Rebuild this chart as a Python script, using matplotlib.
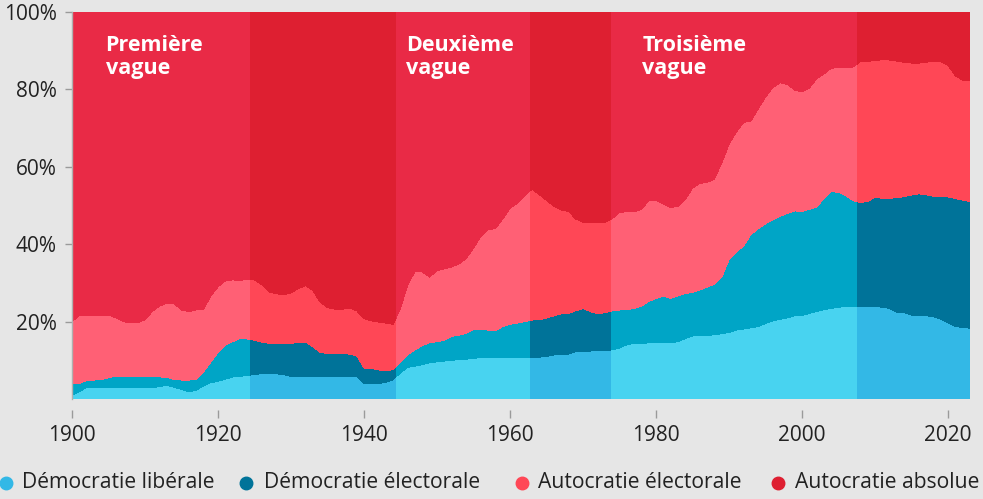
import matplotlib
matplotlib.use("Agg")
import matplotlib.pyplot as plt
from matplotlib.patches import Rectangle
from matplotlib.lines import Line2D

plt.rcParams['font.family'] = ['Open Sans', 'DejaVu Sans']

years = list(range(1900, 2024))

liberale = [1.0, 1.9, 3.0, 2.9, 2.9, 2.9, 2.9, 2.9, 2.9, 2.9,
            2.9, 2.9, 3.2, 3.6, 3.0, 2.5, 1.9, 2.2, 3.4, 4.2,
            4.6, 5.1, 5.7, 5.9, 6.0, 6.4, 6.5, 6.5, 6.5, 6.3,
            5.8, 5.8, 5.8, 5.8, 5.8, 5.8, 5.8, 5.8, 5.8, 5.8,
            4.0, 4.0, 4.0, 4.3, 5.0, 6.8, 8.2, 8.5, 8.9, 9.4,
            9.6, 9.8, 10.0, 10.2, 10.3, 10.5, 10.7, 10.8, 10.8, 10.8,
            10.8, 10.8, 10.8, 10.8, 10.8, 11.0, 11.4, 11.4, 11.6, 12.2,
            12.3, 12.4, 12.5, 12.5, 12.7, 13.2, 14.0, 14.4, 14.4, 14.5,
            14.6, 14.6, 14.6, 14.8, 15.6, 16.3, 16.3, 16.4, 16.6, 16.9,
            17.2, 17.8, 18.1, 18.4, 18.7, 19.5, 20.2, 20.6, 21.0, 21.5,
            21.6, 22.1, 22.6, 23.1, 23.4, 23.7, 23.9, 24.0, 24.0, 24.0,
            23.9, 23.7, 23.4, 22.4, 22.3, 21.7, 21.5, 21.5, 21.3, 20.6,
            19.7, 18.7, 18.5, 18.3]

electorale = [3.0, 2.1, 1.8, 2.0, 2.1, 2.6, 3.0, 3.0, 3.0, 3.0,
              2.9, 2.9, 2.5, 2.0, 2.0, 2.4, 3.0, 2.8, 3.6, 5.3,
              7.4, 8.9, 9.1, 9.7, 9.5, 8.8, 8.2, 7.9, 7.9, 8.1,
              8.6, 8.8, 8.9, 7.7, 6.2, 6.0, 6.0, 6.0, 5.8, 5.4,
              4.0, 3.9, 3.5, 3.0, 2.6, 2.7, 3.3, 4.2, 4.9, 5.2,
              5.2, 5.4, 6.2, 6.3, 6.7, 7.4, 7.3, 7.0, 6.9, 7.9,
              8.5, 8.8, 9.2, 9.6, 9.7, 9.9, 10.1, 10.6, 10.5, 10.6,
              11.1, 10.2, 9.5, 9.8, 10.1, 9.8, 9.1, 9.0, 9.6, 10.7,
              11.4, 12.0, 11.4, 11.8, 11.7, 11.2, 11.9, 12.5, 13.1, 14.6,
              18.8, 20.2, 21.4, 24.1, 25.3, 25.8, 26.1, 26.6, 27.0, 27.1,
              26.9, 26.9, 27.0, 28.7, 30.2, 29.7, 28.6, 27.2, 26.8, 27.0,
              28.3, 28.1, 28.5, 29.6, 30.0, 31.0, 31.5, 31.3, 31.1, 31.7,
              32.5, 33.1, 32.9, 32.7]

auto_electorale = [16.0, 17.5, 16.9, 16.6, 16.6, 16.2, 15.1, 14.1, 13.8, 13.8,
                   14.7, 16.8, 18.3, 19.2, 19.6, 18.1, 17.7, 18.0, 16.2, 17.0,
                   17.0, 16.5, 16.0, 15.0, 15.5, 15.6, 14.8, 13.2, 12.8, 12.5,
                   13.0, 13.9, 14.6, 14.5, 13.0, 11.8, 11.4, 11.4, 11.9, 11.6,
                   12.8, 12.3, 12.4, 12.3, 11.7, 14.0, 18.0, 20.3, 19.0, 16.9,
                   18.4, 18.4, 17.9, 18.4, 19.3, 21.1, 24.0, 26.0, 26.3, 27.8,
                   30.0, 31.0, 32.5, 33.8, 32.3, 30.4, 28.3, 26.8, 26.4, 23.7,
                   22.3, 23.0, 23.6, 23.3, 23.8, 25.2, 25.3, 25.0, 25.0, 26.0,
                   25.4, 23.8, 23.5, 23.2, 24.2, 27.0, 27.5, 27.1, 27.1, 29.5,
                   29.8, 31.0, 32.0, 29.3, 31.0, 32.7, 34.2, 34.5, 33.3, 31.2,
                   30.9, 31.3, 33.2, 32.2, 31.9, 32.2, 33.1, 34.6, 36.4, 36.3,
                   35.2, 35.9, 35.7, 35.3, 34.7, 34.1, 33.8, 34.2, 34.9, 34.9,
                   34.0, 31.7, 31.0, 31.3]

auto_absolue = [80.0, 78.5, 78.3, 78.5, 78.4, 78.3, 79.0, 80.0, 80.3, 80.3,
                79.5, 77.4, 76.0, 75.2, 75.4, 77.0, 77.4, 77.0, 76.8, 73.5,
                71.0, 69.5, 69.2, 69.4, 69.0, 69.2, 70.5, 72.4, 72.8, 73.1,
                72.6, 71.5, 70.7, 72.0, 75.0, 76.4, 76.8, 76.8, 76.5, 77.2,
                79.2, 79.8, 80.1, 80.4, 80.7, 76.5, 70.5, 67.0, 67.2, 68.5,
                66.8, 66.4, 65.9, 65.1, 63.7, 61.0, 58.0, 56.2, 56.0, 53.5,
                50.7, 49.4, 47.5, 45.8, 47.2, 48.7, 50.2, 51.2, 51.5, 53.5,
                54.3, 54.4, 54.4, 54.4, 53.4, 51.8, 51.6, 51.6, 51.0, 48.8,
                48.6, 49.6, 50.5, 50.2, 48.5, 45.5, 44.3, 44.0, 43.2, 39.0,
                34.2, 31.0, 28.5, 28.2, 25.0, 22.0, 19.5, 18.3, 18.7, 20.2,
                20.6, 19.7, 17.2, 16.0, 14.5, 14.4, 14.4, 14.2, 12.8, 12.7,
                12.6, 12.3, 12.4, 12.7, 13.0, 13.2, 13.2, 13.0, 12.7, 12.8,
                13.8, 16.5, 17.6, 17.7]

series_labels = ["Démocratie libérale", "Démocratie électorale",
                 "Autocratie électorale", "Autocratie absolue"]

# reflux periods (darker shading)
reflux_periods = [(1924.4, 1944.4), (1962.7, 1973.8), (2007.5, 2023.0)]
wave_labels = ["Première\nvague", "Deuxième\nvague", "Troisième\nvague"]
wave_label_x = [1904.6, 1945.8, 1978.1]

wave_colors = ["#48d3f0", "#00a5c6", "#ff6075", "#e92a46"]
reflux_colors = ["#33b8e6", "#007399", "#ff4756", "#de1f31"]
legend_colors = ["#33b8e6", "#007399", "#ff4756", "#de1f31"]

bg = "#e6e6e6"
fig = plt.figure(figsize=(9.83, 4.99), dpi=100, facecolor=bg)
ax = fig.add_axes([72 / 983, 100 / 499, (970 - 72) / 983, (399 - 12) / 499])
ax.set_facecolor(bg)

ax.stackplot(years, liberale, electorale, auto_electorale, auto_absolue,
             colors=wave_colors, linewidth=0, antialiased=False)

for (x0, x1) in reflux_periods:
    polys = ax.stackplot(years, liberale, electorale, auto_electorale, auto_absolue,
                         colors=reflux_colors, linewidth=0, antialiased=False)
    rect = Rectangle((x0, 0), x1 - x0, 100, transform=ax.transData)
    for p in polys:
        p.set_clip_path(rect)

for lab, xl in zip(wave_labels, wave_label_x):
    ax.text(xl, 94.0, lab, color="white", fontsize=15.5, fontweight="bold",
            va="top", ha="left", linespacing=1.12)

ax.set_xlim(1900, 2023)
ax.set_ylim(0, 100)

ax.set_yticks([20, 40, 60, 80, 100])
ax.set_yticklabels(["20%", "40%", "60%", "80%", "100%"])
ax.set_xticks(list(range(1900, 2021, 20)))

for s in ["top", "right"]:
    ax.spines[s].set_visible(False)
ax.spines["left"].set_color("#b0b0b0")
ax.spines["left"].set_linewidth(1)
ax.spines["bottom"].set_position(("outward", 8))
ax.spines["bottom"].set_visible(False)

ax.tick_params(axis="y", length=5, width=1, color="#9a9a9a", pad=6,
               labelsize=15, labelcolor="#222222")
ax.tick_params(axis="x", length=6, width=1, color="#9a9a9a", pad=5,
               labelsize=15, labelcolor="#222222")

# legend
legend_marker_x = [6, 246, 522, 778]
legend_text_x = [22, 264, 538, 795]
ly = (499 - 483) / 499
for c, lab, mx, tx in zip(legend_colors, series_labels, legend_marker_x, legend_text_x):
    fig.add_artist(Line2D([mx / 983], [ly], marker="o", markersize=9,
                          markerfacecolor=c, markeredgecolor=c, linestyle="none",
                          transform=fig.transFigure))
    fig.text(tx / 983, ly, lab, fontsize=15.2, color="#222222", va="center", ha="left")

fig.savefig("out.png", dpi=100, facecolor=bg)
